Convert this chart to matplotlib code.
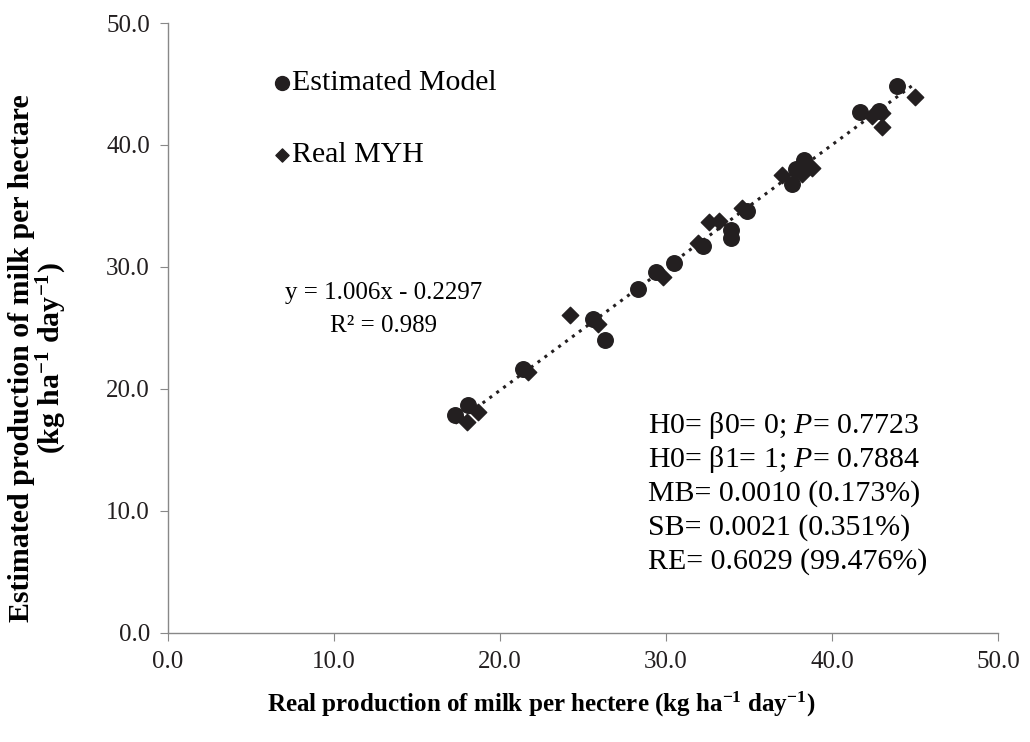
import matplotlib
matplotlib.use("Agg")
import matplotlib.pyplot as plt
import numpy as np

plt.rcParams['font.family'] = ['Liberation Serif', 'DejaVu Serif']
plt.rcParams['mathtext.fontset'] = 'custom'
plt.rcParams['mathtext.rm'] = 'Liberation Serif'
plt.rcParams['mathtext.it'] = 'Liberation Serif:italic'
plt.rcParams['mathtext.bf'] = 'Liberation Serif:bold'

# Estimated model (circles)
est_x = [17.3, 18.1, 21.4, 25.6, 26.3, 28.3, 29.4, 30.5, 32.2, 33.9, 33.9,
         34.9, 37.6, 37.8, 38.3, 41.7, 42.8, 43.9]
est_y = [17.9, 18.7, 21.6, 25.7, 24.0, 28.2, 29.6, 30.3, 31.7, 33.0, 32.4,
         34.6, 36.8, 38.0, 38.8, 42.7, 42.8, 44.8]

# Real MYH (diamonds)
real_x = [18.0, 18.7, 21.7, 24.2, 25.9, 29.8, 31.9, 32.6, 33.2, 34.6, 37.0,
          38.2, 38.8, 42.4, 43.0, 43.0, 45.0]
real_y = [17.3, 18.1, 21.4, 26.1, 25.3, 29.2, 32.0, 33.7, 33.8, 34.8, 37.5,
          37.6, 38.1, 42.4, 42.6, 41.5, 43.9]

slope = 1.006
intercept = -0.2297

ticks = [0, 10, 20, 30, 40, 50]

fig = plt.figure(figsize=(10.30, 7.42), dpi=100)
ax = fig.add_axes([0.163, 0.147, 0.806, 0.822])

ax.scatter(est_x, est_y, marker='o', s=125, color='#231f20', zorder=3)
ax.scatter(real_x, real_y, marker='D', s=70, color='#231f20', zorder=3)

all_x = est_x + real_x
xl = np.array([min(all_x), max(all_x)])
ax.plot(xl, slope * xl + intercept, linestyle=(0, (1, 1.8)), color='#231f20',
        linewidth=2.2, zorder=4)

ax.set_xlim(0, 50)
ax.set_ylim(0, 50)
ax.set_xticks(ticks)
ax.set_yticks(ticks)
ax.set_xticklabels([f"{t:.1f}" for t in ticks], fontsize=18)
ax.set_yticklabels([f"{t:.1f}" for t in ticks], fontsize=18)
for s in ['top', 'right']:
    ax.spines[s].set_visible(False)
for s in ['left', 'bottom']:
    ax.spines[s].set_color('#888888')
    ax.spines[s].set_linewidth(1.0)
ax.tick_params(direction='out', length=6, color='#888888', pad=7, labelcolor='#231f20')

# legend drawn by hand
ax.scatter([6.9], [45.1], marker='o', s=100, color='#231f20', clip_on=False)
ax.text(7.5, 45.1, "Estimated Model", fontsize=21.5, va='center', ha='left')
ax.scatter([6.9], [39.2], marker='D', s=45, color='#231f20', clip_on=False)
ax.text(7.5, 39.2, "Real MYH", fontsize=21.5, va='center', ha='left')

ax.text(13.0, 27.9, "y = 1.006x - 0.2297", fontsize=18, ha='center', va='center')
ax.text(13.0, 25.2, "R² = 0.989", fontsize=18, ha='center', va='center')

stats = [r"H0= β0= 0; $\it{P}$= 0.7723",
         r"H0= β1= 1; $\it{P}$= 0.7884",
         "MB= 0.0010 (0.173%)",
         "SB= 0.0021 (0.351%)",
         "RE= 0.6029 (99.476%)"]
for i, line in enumerate(stats):
    ax.text(28.9, 17.0 - i * 2.78, line, fontsize=21.5, ha='left', va='center')

fig.text(0.525, 0.05, r"Real production of milk per hectere (kg ha$^{\mathbf{-1}}$ day$^{\mathbf{-1}}$)",
         fontsize=18, fontweight='bold', ha='center', va='center')
fig.text(0.021, 0.517, "Estimated production of milk per hectare",
         fontsize=21.5, fontweight='bold', rotation=90, ha='center', va='center')
fig.text(0.050, 0.517, r"(kg ha$^{\mathbf{-1}}$ day$^{\mathbf{-1}}$)",
         fontsize=21.5, fontweight='bold', rotation=90, ha='center', va='center')

fig.savefig("out.png", dpi=100)
